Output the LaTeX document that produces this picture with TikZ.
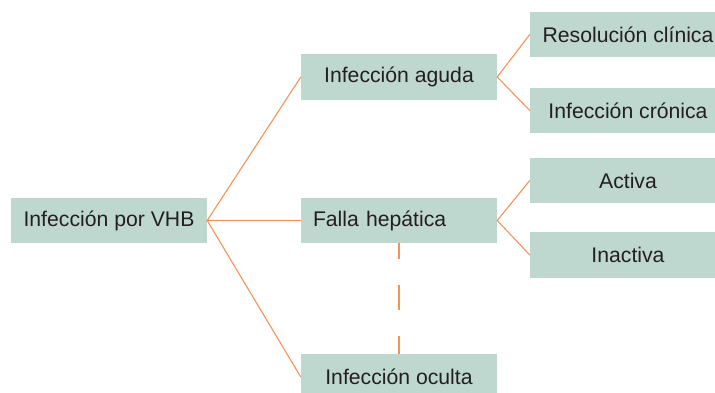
\documentclass[tikz,border=0pt]{standalone}
\usepackage{fontspec}
\setmainfont{Liberation Sans}
\usepackage{tikz}
\definecolor{boxfill}{HTML}{BED8D0}
\definecolor{linkcol}{HTML}{F5925C}
\definecolor{textcol}{HTML}{231F20}
\tikzset{
  box/.style={fill=boxfill,text=textcol,minimum width=196pt,minimum height=45.5pt,inner sep=0pt,
    font=\fontsize{21.2}{25}\selectfont},
  link/.style={draw=linkcol,line width=1.1pt},
}

\begin{document}
\begin{tikzpicture}[x=1pt,y=-1pt]
    \useasboundingbox (0,0) rectangle (715,392);
    \clip (0,0) rectangle (715,392);
    % first level
    \node[box] (root) at (109,220.5) {Infección por VHB};
    \node[box] (acute) at (399,77) {Infección aguda};
    \node[box,text width=172pt,align=left] (failure) at (399,220.5) {Falla hepática};
    \node[box] (occult) at (399,377) {Infección oculta};
    % right column
    \node[box] (resolution) at (628,34.5) {Resolución clínica};
    \node[box] (chronic) at (628,110.5) {Infección crónica};
    \node[box] (active) at (628,180.5) {Activa};
    \node[box] (inactive) at (628,255) {Inactiva};
    \draw[link] (acute.west) -- (root.east) -- (failure.west);
    \draw[link] (root.east) -- (occult.west);
    \draw[link] (resolution.west) -- (acute.east) -- (chronic.west);
    \draw[link] (active.west) -- (failure.east) -- (inactive.west);
    \draw[link,dash pattern=on 25pt off 26pt,dash phase=9pt] (failure.south) -- (occult.north);
\end{tikzpicture}
\end{document}
